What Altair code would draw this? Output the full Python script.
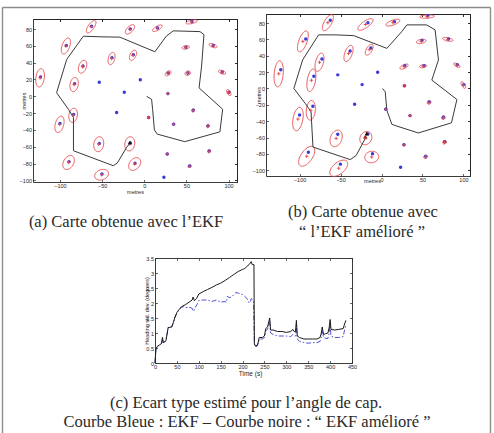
import numpy as np
import pandas as pd
import altair as alt

# ---------------- landmark maps (metres) ----------------
# true landmark positions (blue stars), numbered 1..36
lm_x = [-62.5, -16.6, 15.8, 56.5, -92.5, 49.4, 81.8, -38.3, -13.0, -72.7, 28.5, 51.8,
        92.5, -123.0, -82.6, -53.4, -4.7, -23.7, 28.0, 100.4, -32.8, -83.8, 58.1, 5.1,
        -100.0, 34.8, 75.5, -53.4, -16.6, 27.3, 77.0, -89.3, -11.0, 53.8, -50.2, 23.3]
lm_y = [83.4, 80.2, 81.4, 88.9, 60.5, 58.5, 60.5, 45.8, 49.4, 36.0, 27.7, 27.7,
        28.9, 22.9, 15.0, 16.6, 19.8, 4.7, 3.2, 4.7, -19.4, -21.7, -16.6, -25.3,
        -32.4, -33.2, -35.2, -56.1, -55.7, -68.8, -65.2, -77.9, -79.8, -83.0, -92.5, -96.4]

# landmarks present in the filter state
mapped = [1, 2, 3, 4, 5, 6, 7, 8, 9, 10, 11, 12, 13, 14, 15, 19, 20, 22, 23, 24,
          25, 26, 27, 28, 29, 30, 31, 32, 33, 34, 35]

# (a) EKF: estimated positions (red +) and 3-sigma ellipses
est_a_x = [-63.0, -17.0, 15.5, 56.2, -93.0, 49.2, 81.6, -38.8, -13.4, -73.2, 28.3, 51.6,
           92.3, -123.6, -83.2, 28.0, 100.2, -84.4, 58.1, 5.1, -100.6, 34.8, 75.5,
           -54.0, -17.2, 27.3, 77.0, -89.8, -11.4, 53.8, -50.6]
est_a_y = [82.8, 79.6, 81.0, 88.6, 59.8, 58.2, 60.3, 45.0, 48.8, 35.2, 27.4, 27.5,
           28.7, 22.0, 14.0, 3.2, 4.5, -22.6, -16.8, -25.3, -33.4, -33.2, -35.4,
           -57.0, -56.6, -68.8, -65.4, -78.8, -80.6, -83.2, -93.4]
ell_a_major = [8.7, 7.0, 6.5, 7.0, 10.0, 4.5, 5.0, 7.5, 6.5, 8.0, 4.0, 3.5, 4.5, 11.0,
               8.5, 1.2, 4.0, 8.5, 2.0, 1.2, 10.0, 1.2, 2.0, 9.0, 8.5, 1.5, 2.0, 9.0,
               8.5, 2.0, 8.5]
ell_a_minor = [3.5, 3.5, 2.5, 2.0, 4.5, 2.0, 2.0, 3.8, 3.5, 4.5, 2.3, 2.5, 2.0, 5.0,
               4.8, 1.0, 2.0, 5.0, 1.5, 1.0, 5.0, 1.0, 1.5, 5.8, 5.8, 1.0, 1.5, 6.0,
               6.0, 1.5, 6.0]
ell_a_angle = [55, 45, 30, 12, 70, 10, -20, 75, 65, 70, 35, 20, -20, 82, 80, 0, -60,
               80, 60, 0, 75, 0, 60, 80, 80, 0, 60, 60, 50, 30, 20]

# (b) improved EKF
est_b_x = [-65.5, -19.6, 13.8, 55.5, -96.0, 48.4, 80.8, -40.3, -15.0, -75.7, 27.5, 50.8,
           92.0, -125.5, -85.6, 28.0, 99.9, -86.3, 58.1, 5.1, -102.0, 34.8, 75.5,
           -55.4, -19.1, 27.3, 77.0, -91.3, -12.0, 53.8, -52.2]
est_b_y = [80.4, 78.2, 80.4, 87.9, 57.5, 57.5, 60.0, 42.8, 47.4, 32.0, 26.7, 27.2,
           28.4, 17.9, 10.0, 3.2, 4.2, -26.7, -17.1, -25.3, -37.4, -33.2, -35.7,
           -61.1, -60.7, -68.8, -65.7, -82.9, -83.8, -83.5, -97.5]
ell_b_major = [11.0, 11.0, 9.0, 9.0, 13.5, 6.0, 6.5, 10.5, 7.5, 11.5, 5.5, 4.5, 4.5,
               16.0, 14.0, 1.5, 4.5, 12.0, 2.5, 1.5, 14.5, 1.5, 2.5, 10.5, 8.5, 1.5,
               2.5, 14.0, 8.5, 2.5, 13.0]
ell_b_minor = [4.5, 4.0, 3.0, 2.0, 5.0, 2.5, 2.0, 4.5, 3.5, 4.8, 2.3, 1.8, 1.8, 5.5,
               5.0, 1.2, 2.0, 5.5, 2.0, 1.2, 6.0, 1.2, 2.0, 7.0, 7.0, 1.2, 2.0, 7.0,
               7.0, 2.0, 7.0]
ell_b_angle = [60, 35, 20, 3, 70, 10, -12, 70, 60, 75, 25, 10, -30, 85, 80, 0, -60,
               85, 45, 0, 80, 0, 45, 70, 60, 0, 45, 55, 10, 30, 40]

# robot trajectories
traj_a_x = [2.8, 8.7, 9.9, 12.0, 15.4, 48.0, 89.7, 93.0, 65.0, 68.0, 70.8, 66.0, 34.4,
            26.0, 12.6, -28.9, -52.6, -72.3, -92.0, -104.0, -90.0, -84.0, -84.0,
            -36.8, -32.0, -21.0, -17.0]
traj_a_y = [0.0, -3.6, -15.4, -40.0, -45.0, -54.0, -42.3, -15.4, 10.0, 36.0, 73.5, 77.0,
            77.9, 71.5, 53.0, 70.4, 70.8, 71.5, 43.9, 4.3, -15.4, -25.3, -64.8,
            -82.6, -79.4, -60.9, -55.7]
traj_b_x = [1.2, 4.5, 6.5, 12.6, 18.7, 45.0, 85.4, 92.0, 61.4, 69.5, 65.4, 55.0, 31.0,
            24.8, 6.5, -34.0, -56.5, -76.8, -96.3, -107.0, -93.0, -86.0, -83.7,
            -38.2, -31.0, -20.0, -18.0]
traj_b_y = [0.0, -4.0, -26.6, -43.8, -46.0, -54.4, -42.0, -13.5, 10.2, 34.8, 71.6, 77.7,
            77.7, 69.6, 49.0, 64.6, 65.5, 65.5, 34.8, 0.0, -18.4, -28.6, -71.6,
            -87.0, -82.0, -61.4, -55.0]
robot_a = (-17.0, -55.0)
robot_b = (-18.0, -55.0)
robot_b_est = (-20.0, -59.0)

# ---------------- heading standard deviation (degrees) ----------------
t_black = [0, 2, 5, 10, 15, 17, 19, 22, 25, 28, 30, 38, 42, 45, 50, 55, 60, 70, 80, 85,
           87, 90, 95, 100, 110, 120, 130, 140, 150, 160, 170, 175, 180, 190, 200, 205,
           210, 215, 220, 222, 226, 227, 229, 233, 236, 238, 245, 250, 253, 257, 262,
           264, 270, 280, 290, 300, 310, 315, 318, 321, 323, 325, 330, 340, 350, 360,
           370, 377, 380, 382, 385, 390, 395, 398, 400, 402, 410, 420, 430, 433, 436]
v_black = [0.0, 0.45, 0.55, 0.6, 0.65, 0.85, 0.68, 0.7, 0.75, 1.0, 1.18, 1.2, 1.35, 1.5,
           1.68, 1.78, 1.87, 1.95, 2.05, 2.1, 2.2, 2.08, 2.15, 2.3, 2.38, 2.45, 2.52,
           2.6, 2.66, 2.75, 2.85, 2.9, 2.95, 3.05, 3.12, 3.15, 3.22, 3.28, 3.38, 3.28,
           3.28, 0.65, 0.57, 0.58, 0.7, 0.85, 0.85, 0.9, 1.15, 1.2, 1.5, 1.1, 1.1, 1.05,
           1.05, 1.02, 1.05, 1.12, 1.05, 1.05, 1.42, 0.9, 0.85, 0.8, 0.8, 0.8, 0.8,
           0.85, 1.0, 1.2, 0.95, 0.98, 1.0, 1.2, 1.45, 1.12, 1.1, 1.12, 1.15, 1.3, 1.42]
t_blue = [0, 2, 5, 10, 15, 17, 19, 22, 25, 28, 30, 38, 42, 45, 50, 55, 60, 65, 70, 80,
          85, 88, 92, 96, 100, 110, 120, 130, 140, 150, 160, 163, 165, 170, 175, 180,
          185, 190, 195, 200, 205, 210, 215, 218, 220, 225, 227, 229, 233, 236, 238,
          245, 250, 253, 257, 262, 264, 270, 280, 290, 300, 310, 315, 318, 321, 323,
          325, 330, 340, 350, 360, 370, 377, 380, 382, 385, 390, 395, 398, 400, 402,
          410, 420, 430, 433, 436]
v_blue = [0.0, 0.45, 0.55, 0.6, 0.65, 0.85, 0.68, 0.7, 0.75, 1.0, 1.18, 1.2, 1.35, 1.5,
          1.68, 1.78, 1.85, 1.88, 1.85, 1.85, 1.82, 1.72, 1.85, 1.95, 2.08, 2.1, 2.1,
          2.05, 2.1, 2.03, 2.05, 2.02, 2.22, 2.18, 2.2, 2.28, 2.35, 2.33, 2.3, 2.28,
          2.22, 2.15, 2.0, 2.05, 2.15, 2.08, 0.6, 0.55, 0.56, 0.65, 0.8, 0.8, 0.85,
          1.08, 1.12, 1.38, 1.0, 0.95, 0.9, 0.9, 0.9, 0.88, 0.95, 0.9, 0.9, 1.25, 0.8,
          0.72, 0.68, 0.66, 0.68, 0.68, 0.72, 0.85, 1.05, 0.85, 0.82, 0.82, 1.0, 1.25,
          0.9, 0.85, 0.85, 0.88, 1.1, 1.25]

captions = {
    "a": "(a) Carte obtenue avec l’EKF",
    "b1": "(b) Carte obtenue avec",
    "b2": "“ l’EKF amélioré ”",
    "c1": "(c) Ecart type estimé pour l’angle de cap.",
    "c2": "Courbe Bleue : EKF – Courbe noire : “ EKF amélioré ”",
}

# ---------------- layout (pixels inside the outer frame) ----------------
W, H = 488, 426
PA = dict(x0=31, x1=235, y0=12, y1=175, xd=[-132, 110], yd=[-102, 92],
          xt=[-100, -50, 0, 50, 100], yt=list(range(-100, 81, 20)))
PB = dict(x0=264, x1=468, y0=7, y1=169, xd=[-141, 108], yd=[-107, 91],
          xt=[-100, -50, 0, 50, 100], yt=list(range(-100, 81, 20)))
PC = dict(x0=153, x1=350, y0=251, y1=356, xd=[0, 450], yd=[0, 3.5],
          xt=list(range(0, 451, 50)), yt=[0, 0.5, 1, 1.5, 2, 2.5, 3, 3.5])

RED = "#e5484d"
BLUE = "#3a3ad6"
INK = "#262626"
FRAME = "#8c8c8c"
LABEL = dict(labelFont="Liberation Sans", labelFontSize=5.5, labelColor=INK,
             labelPadding=1.5, labelFlush=False, labelOverlap=False)


def axes(p, role, xtitle=None, ytitle=None):
    """Return (x axis, y axis) for one of three roles drawn per panel:
    'main' = labelled bottom/left lines, 'in' = inward ticks on bottom/left,
    'box' = top/right lines with inward ticks."""
    common = dict(grid=False, tickColor=INK, domainColor=INK, tickWidth=0.7,
                  domainWidth=0.9, tickSize=2.5, title=None)
    if role == "main":
        xa = dict(common, orient="bottom", offset=p["y1"] - H, values=p["xt"],
                  ticks=False, **LABEL)
        ya = dict(common, orient="left", offset=-p["x0"], values=p["yt"],
                  ticks=False, **LABEL)
        if xtitle:
            xa.update(xtitle)
        if ytitle:
            ya.update(ytitle)
        return alt.Axis(**xa), alt.Axis(**ya)
    if role == "in":
        xa = dict(common, orient="top", offset=-p["y1"], values=p["xt"],
                  labels=False, domain=False)
        ya = dict(common, orient="right", offset=p["x0"] - W, values=p["yt"],
                  labels=False, domain=False)
        return alt.Axis(**xa), alt.Axis(**ya)
    xa = dict(common, orient="bottom", offset=p["y0"] - H, values=p["xt"],
              labels=False)
    ya = dict(common, orient="left", offset=-p["x1"], values=p["yt"], labels=False)
    return alt.Axis(**xa), alt.Axis(**ya)


def pos(p, role, xf="x", yf="y", **kw):
    xa, ya = axes(p, role, **kw)
    xs = alt.Scale(domain=p["xd"], range=[p["x0"], p["x1"]], nice=False, zero=False)
    ys = alt.Scale(domain=p["yd"], range=[p["y1"], p["y0"]], nice=False, zero=False)
    return dict(x=alt.X(f"{xf}:Q", scale=xs, axis=xa),
                y=alt.Y(f"{yf}:Q", scale=ys, axis=ya))


def ellipse_table(cx, cy, major, minor, angle):
    th = np.linspace(0, 2 * np.pi, 49)
    rows = []
    for i, (x, y, a, b, g) in enumerate(zip(cx, cy, major, minor, angle)):
        r = np.deg2rad(g)
        ex = x + a * np.cos(th) * np.cos(r) - b * np.sin(th) * np.sin(r)
        ey = y + a * np.cos(th) * np.sin(r) + b * np.sin(th) * np.cos(r)
        for k in range(len(th)):
            rows.append({"id": i, "k": k, "x": ex[k], "y": ey[k]})
    return pd.DataFrame(rows)


cross = "M-1,0L1,0M0,-1L0,1"
landmarks = pd.DataFrame({"x": lm_x, "y": lm_y})


def map_panel(p, est_x, est_y, major, minor, angle, tx, ty, robots, xtitle, ytitle):
    ell = ellipse_table(est_x, est_y, major, minor, angle)
    traj = pd.DataFrame({"x": tx, "y": ty, "k": range(len(tx))})
    est = pd.DataFrame({"x": est_x, "y": est_y})
    rob = pd.DataFrame({"x": [r[0] for r in robots], "y": [r[1] for r in robots],
                        "c": [r[2] for r in robots]})
    return [
        alt.Chart(ell).mark_line(color=RED, strokeWidth=0.9).encode(
            detail="id:N", order="k:Q",
            **pos(p, "main", xtitle=xtitle, ytitle=ytitle)),
        alt.Chart(traj).mark_line(color="#3a3a3a", strokeWidth=1.0).encode(
            order="k:Q", **pos(p, "in")),
        alt.Chart(landmarks).mark_point(shape="circle", filled=True, size=12,
                                        color=BLUE, opacity=1).encode(**pos(p, "box")),
        alt.Chart(est).mark_point(shape=cross, filled=False, size=12, color=RED,
                                  strokeWidth=0.9, opacity=1).encode(**pos(p, "box")),
        alt.Chart(rob).mark_point(shape="triangle-up", filled=True, size=18,
                                  opacity=1).encode(
            color=alt.Color("c:N", scale=None), **pos(p, "box")),
    ]


layers = []
layers += map_panel(
    PA, est_a_x, est_a_y, ell_a_major, ell_a_minor, ell_a_angle, traj_a_x, traj_a_y,
    [(robot_a[0], robot_a[1], "#111111")],
    xtitle=dict(title="metres", titleX=133, titleY=9, titleBaseline="middle"),
    ytitle=dict(title="metres", titleX=-10, titleY=93.5, titleBaseline="middle",
                titleAngle=270))
layers += map_panel(
    PB, est_b_x, est_b_y, ell_b_major, ell_b_minor, ell_b_angle, traj_b_x, traj_b_y,
    [(robot_b_est[0], robot_b_est[1], "#b02020"), (robot_b[0], robot_b[1], "#111111")],
    xtitle=dict(title="metres", titleX=370, titleY=4, titleBaseline="middle"),
    ytitle=dict(title="metres", titleX=-8, titleY=88, titleBaseline="middle",
                titleAngle=270))

black = pd.DataFrame({"t": t_black, "v": v_black})
blue = pd.DataFrame({"t": t_blue, "v": v_blue})
layers += [
    alt.Chart(blue).mark_line(color=BLUE, strokeWidth=0.9,
                              strokeDash=[5, 2, 1.5, 2]).encode(
        **pos(PC, "main", xf="t", yf="v",
              xtitle=dict(title="Time (s)", titleX=248, titleY=10,
                          titleBaseline="middle", titleFontSize=6.5),
              ytitle=dict(title="Heading std. dev. (degrees)", titleX=-9,
                          titleY=303.5, titleBaseline="middle", titleAngle=270,
                          format="~g"))),
    alt.Chart(black).mark_line(color="#1a1a1a", strokeWidth=1.0).encode(
        **pos(PC, "in", xf="t", yf="v")),
    alt.Chart(black).mark_line(opacity=0).encode(**pos(PC, "box", xf="t", yf="v")),
]

# outer frame of the figure: top, left and right edges
frame_x = alt.Scale(domain=[0, 450], range=[0, W], nice=False, zero=False)
frame_y = alt.Scale(domain=[0, 3.5], range=[H, 0], nice=False, zero=False)
frame_axis = dict(grid=False, ticks=False, labels=False, title=None,
                  domainColor=FRAME, domainWidth=1.4)
layers += [
    alt.Chart(black).mark_line(opacity=0).encode(
        x=alt.X("t:Q", scale=frame_x, axis=alt.Axis(orient="top", **frame_axis)),
        y=alt.Y("v:Q", scale=frame_y, axis=alt.Axis(orient="left", **frame_axis))),
    alt.Chart(black).mark_line(opacity=0).encode(
        x=alt.X("t:Q", scale=frame_x, axis=None),
        y=alt.Y("v:Q", scale=frame_y, axis=alt.Axis(orient="right", **frame_axis))),
]

# captions under each panel
cap_pos = {"a": (124, 215), "b1": (361, 205), "b2": (360, 225),
           "c1": (244, 396), "c2": (245, 415)}
for key, text in captions.items():
    cx, cy = cap_pos[key]
    layers.append(
        alt.Chart(pd.DataFrame({"s": [text]})).mark_text(
            font="Liberation Serif", fontSize=16.5, color="#2a2a2a",
            align="center", baseline="middle").encode(
            x=alt.value(cx), y=alt.value(cy), text="s:N"))

chart = (
    alt.layer(*layers)
    .resolve_scale(x="independent", y="independent", color="independent")
    .resolve_axis(x="independent", y="independent")
    .properties(width=W, height=H, autosize="none",
                padding={"left": 2, "top": 7, "right": 4, "bottom": 0},
                background="white")
    .configure_view(stroke=None)
    .configure_axis(titleFont="Liberation Sans", titleFontSize=5.5,
                    titleFontWeight="normal", titleColor=INK, titleAlign="center")
)

chart.save("out.html", embed_options={"renderer": "svg", "actions": False})
